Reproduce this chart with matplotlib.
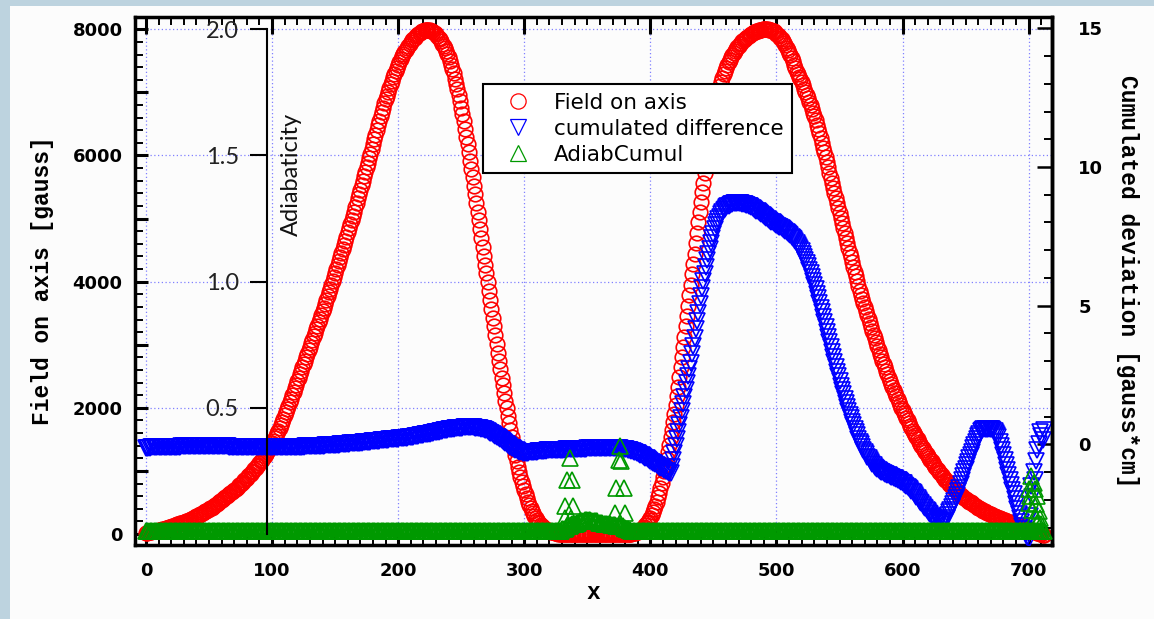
import numpy as np
import matplotlib
matplotlib.use("Agg")
import matplotlib.pyplot as plt
from matplotlib.ticker import MultipleLocator, FixedLocator, FuncFormatter
from matplotlib.patches import Rectangle
from matplotlib.lines import Line2D

# ---------------- data ----------------
x_start, x_step, x_stop = 0, 1, 712          # sample positions along x
x_vals = np.arange(x_start, x_stop + 1, x_step)

field_on_axis = [
    20, 22, 25, 30, 35, 40, 45, 48, 50, 55, 60, 65, 70, 75, 80, 85, 90, 98, 105, 110,
    115, 122, 130, 138, 145, 152, 160, 168, 175, 182, 190, 198, 205, 212, 220, 230, 240, 250, 260, 270,
    280, 290, 300, 310, 320, 332, 345, 358, 370, 382, 395, 408, 420, 432, 445, 460, 475, 490, 505, 520,
    535, 550, 565, 580, 595, 612, 630, 648, 665, 682, 700, 718, 735, 752, 770, 790, 810, 830, 850, 870,
    890, 912, 935, 958, 980, 1002, 1025, 1050, 1075, 1100, 1125, 1152, 1180, 1210, 1240, 1270, 1300, 1335, 1370, 1405,
    1440, 1478, 1515, 1555, 1595, 1638, 1680, 1725, 1770, 1825, 1880, 1930, 1980, 2035, 2090, 2145, 2200, 2255, 2310, 2365,
    2420, 2475, 2530, 2585, 2640, 2695, 2750, 2805, 2860, 2915, 2970, 3025, 3080, 3135, 3190, 3245, 3300, 3355, 3410, 3470,
    3530, 3590, 3650, 3710, 3770, 3830, 3890, 3950, 4010, 4070, 4130, 4195, 4260, 4325, 4390, 4455, 4520, 4585, 4650, 4715,
    4780, 4845, 4910, 4975, 5040, 5110, 5180, 5250, 5320, 5390, 5460, 5530, 5600, 5670, 5740, 5810, 5880, 5955, 6030, 6105,
    6180, 6255, 6330, 6405, 6480, 6550, 6620, 6690, 6760, 6825, 6890, 6950, 7010, 7070, 7130, 7185, 7240, 7290, 7340, 7390,
    7440, 7485, 7530, 7570, 7610, 7645, 7680, 7710, 7740, 7770, 7800, 7825, 7850, 7870, 7890, 7910, 7930, 7945, 7960, 7970,
    7980, 7985, 7990, 7990, 7990, 7985, 7980, 7970, 7960, 7940, 7920, 7895, 7870, 7840, 7810, 7775, 7740, 7700, 7660, 7610,
    7560, 7500, 7440, 7370, 7300, 7220, 7140, 7050, 6960, 6860, 6760, 6650, 6540, 6420, 6300, 6175, 6050, 5920, 5790, 5655,
    5520, 5385, 5250, 5110, 4970, 4830, 4690, 4550, 4410, 4270, 4130, 3990, 3850, 3710, 3570, 3430, 3290, 3150, 3010, 2875,
    2740, 2610, 2480, 2355, 2230, 2110, 1990, 1875, 1760, 1650, 1540, 1440, 1340, 1245, 1150, 1065, 980, 905, 830, 760,
    690, 630, 570, 515, 460, 415, 370, 330, 290, 258, 225, 198, 170, 148, 125, 108, 90, 78, 65, 55,
    45, 38, 30, 25, 20, 15, 10, 8, 5, 2, 0, 0, 0, 0, 0, 0, 0, 0, 0, 0,
    0, 0, 0, 0, 0, 0, 0, 0, 0, 0, 0, 0, 0, 0, 0, 0, 0, 0, 0, 0,
    0, 0, 0, 0, 0, 0, 0, 0, 0, 0, 0, 0, 0, 0, 0, 0, 0, 0, 0, 0,
    0, 0, 0, 2, 5, 8, 10, 15, 20, 28, 35, 48, 60, 78, 95, 118, 140, 168, 195, 228,
    260, 300, 345, 395, 450, 515, 580, 655, 730, 815, 900, 995, 1090, 1195, 1300, 1415, 1530, 1655, 1780, 1910,
    2040, 2185, 2330, 2485, 2640, 2800, 2960, 3125, 3290, 3455, 3620, 3785, 3950, 4115, 4280, 4445, 4610, 4775, 4940, 5100,
    5260, 5415, 5570, 5720, 5870, 6015, 6160, 6295, 6430, 6545, 6660, 6760, 6860, 6945, 7030, 7100, 7170, 7230, 7290, 7340,
    7390, 7435, 7480, 7520, 7560, 7595, 7630, 7660, 7690, 7715, 7740, 7765, 7790, 7810, 7830, 7850, 7870, 7885, 7900, 7915,
    7930, 7940, 7950, 7960, 7970, 7978, 7985, 7990, 7995, 7998, 8000, 8000, 8000, 7998, 7995, 7990, 7985, 7978, 7970, 7950,
    7930, 7910, 7890, 7865, 7840, 7810, 7780, 7745, 7710, 7670, 7630, 7585, 7540, 7490, 7440, 7385, 7330, 7290, 7250, 7205,
    7160, 7110, 7060, 7010, 6960, 6905, 6850, 6795, 6740, 6680, 6620, 6555, 6490, 6420, 6350, 6275, 6200, 6125, 6050, 5970,
    5890, 5810, 5730, 5650, 5570, 5490, 5410, 5330, 5250, 5170, 5090, 5010, 4930, 4850, 4770, 4690, 4610, 4535, 4460, 4385,
    4310, 4235, 4160, 4085, 4010, 3935, 3860, 3795, 3730, 3665, 3600, 3535, 3470, 3405, 3340, 3280, 3220, 3160, 3100, 3040,
    2980, 2920, 2860, 2805, 2750, 2695, 2640, 2585, 2530, 2480, 2430, 2380, 2330, 2280, 2230, 2185, 2140, 2095, 2050, 2005,
    1960, 1920, 1880, 1840, 1800, 1760, 1720, 1680, 1640, 1605, 1570, 1535, 1500, 1465, 1430, 1395, 1360, 1330, 1300, 1270,
    1240, 1210, 1180, 1150, 1120, 1090, 1060, 1035, 1010, 985, 960, 935, 910, 885, 860, 840, 820, 800, 780, 760,
    740, 720, 700, 680, 660, 642, 625, 608, 590, 575, 560, 545, 530, 515, 500, 485, 470, 458, 445, 432,
    420, 408, 395, 382, 370, 360, 350, 340, 330, 320, 310, 300, 290, 280, 270, 262, 255, 248, 240, 232,
    225, 218, 210, 202, 195, 188, 180, 172, 165, 158, 150, 142, 135, 128, 120, 112, 105, 98, 90, 82,
    75, 68, 60, 52, 45, 38, 30, 22, 15, 8, 0, -8, -15,
]

cumulated_difference = [
    -0.12, -0.12, -0.12, -0.12, -0.11, -0.11, -0.11, -0.11, -0.10, -0.10, -0.10, -0.10, -0.10, -0.10, -0.09, -0.09, -0.09, -0.09, -0.09, -0.09,
    -0.09, -0.09, -0.08, -0.08, -0.08, -0.08, -0.08, -0.08, -0.07, -0.07, -0.07, -0.07, -0.07, -0.07, -0.06, -0.06, -0.06, -0.06, -0.06, -0.06,
    -0.06, -0.06, -0.06, -0.06, -0.06, -0.06, -0.06, -0.06, -0.06, -0.06, -0.06, -0.06, -0.06, -0.06, -0.06, -0.06, -0.07, -0.07, -0.07, -0.07,
    -0.07, -0.07, -0.07, -0.07, -0.07, -0.07, -0.08, -0.08, -0.08, -0.08, -0.08, -0.08, -0.08, -0.08, -0.08, -0.08, -0.09, -0.09, -0.09, -0.09,
    -0.09, -0.09, -0.09, -0.09, -0.09, -0.09, -0.09, -0.09, -0.09, -0.09, -0.09, -0.09, -0.09, -0.09, -0.09, -0.09, -0.09, -0.09, -0.09, -0.09,
    -0.09, -0.09, -0.09, -0.09, -0.09, -0.09, -0.09, -0.09, -0.09, -0.09, -0.09, -0.09, -0.09, -0.09, -0.08, -0.08, -0.08, -0.08, -0.08, -0.08,
    -0.08, -0.08, -0.08, -0.08, -0.08, -0.08, -0.07, -0.07, -0.07, -0.07, -0.07, -0.07, -0.07, -0.07, -0.06, -0.06, -0.06, -0.06, -0.05, -0.05,
    -0.05, -0.05, -0.04, -0.04, -0.04, -0.04, -0.03, -0.03, -0.03, -0.03, -0.02, -0.02, -0.01, -0.01, 0.00, 0.00, 0.01, 0.01, 0.01, 0.01,
    0.02, 0.025, 0.03, 0.035, 0.04, 0.045, 0.05, 0.05, 0.05, 0.055, 0.06, 0.065, 0.07, 0.075, 0.08, 0.085, 0.09, 0.095, 0.10, 0.105,
    0.11, 0.115, 0.12, 0.125, 0.13, 0.135, 0.14, 0.145, 0.15, 0.155, 0.16, 0.165, 0.17, 0.175, 0.18, 0.185, 0.19, 0.195, 0.20, 0.205,
    0.21, 0.215, 0.22, 0.225, 0.23, 0.235, 0.24, 0.245, 0.25, 0.26, 0.27, 0.275, 0.28, 0.29, 0.30, 0.305, 0.31, 0.32, 0.33, 0.34,
    0.35, 0.36, 0.37, 0.375, 0.38, 0.39, 0.40, 0.41, 0.42, 0.43, 0.44, 0.45, 0.46, 0.47, 0.48, 0.49, 0.50, 0.51, 0.52, 0.53,
    0.54, 0.545, 0.55, 0.56, 0.57, 0.575, 0.58, 0.585, 0.59, 0.595, 0.60, 0.605, 0.61, 0.61, 0.61, 0.615, 0.62, 0.62, 0.62, 0.615,
    0.61, 0.605, 0.60, 0.595, 0.59, 0.58, 0.57, 0.555, 0.54, 0.52, 0.50, 0.475, 0.45, 0.425, 0.40, 0.37, 0.34, 0.31, 0.28, 0.25,
    0.22, 0.185, 0.15, 0.115, 0.08, 0.045, 0.01, -0.025, -0.06, -0.09, -0.12, -0.145, -0.17, -0.195, -0.22, -0.24, -0.26, -0.275, -0.29, -0.295,
    -0.30, -0.30, -0.30, -0.295, -0.29, -0.285, -0.28, -0.275, -0.27, -0.265, -0.26, -0.255, -0.25, -0.245, -0.24, -0.235, -0.23, -0.225, -0.22, -0.22,
    -0.22, -0.215, -0.21, -0.21, -0.21, -0.205, -0.20, -0.20, -0.20, -0.195, -0.19, -0.19, -0.19, -0.185, -0.18, -0.18, -0.18, -0.18, -0.18, -0.175,
    -0.17, -0.17, -0.17, -0.165, -0.16, -0.16, -0.16, -0.16, -0.16, -0.155, -0.15, -0.15, -0.15, -0.15, -0.15, -0.145, -0.14, -0.14, -0.14, -0.14,
    -0.14, -0.14, -0.14, -0.14, -0.14, -0.14, -0.14, -0.14, -0.14, -0.14, -0.14, -0.14, -0.14, -0.145, -0.15, -0.15, -0.15, -0.155, -0.16, -0.165,
    -0.17, -0.18, -0.19, -0.20, -0.21, -0.225, -0.24, -0.26, -0.28, -0.30, -0.32, -0.345, -0.37, -0.395, -0.42, -0.45, -0.48, -0.51, -0.54, -0.57,
    -0.60, -0.63, -0.66, -0.69, -0.72, -0.75, -0.78, -0.81, -0.84, -0.87, -0.90, -0.925, -0.95, -0.975, -1.00, -1.02, -1.03, -0.80, -0.55, -0.30,
    -0.05, 0.20, 0.45, 0.70, 0.95, 1.20, 1.45, 1.70, 1.95, 2.20, 2.45, 2.70, 2.95, 3.25, 3.55, 3.85, 4.15, 4.45, 4.75, 5.05,
    5.35, 5.63, 5.90, 6.15, 6.40, 6.63, 6.85, 7.05, 7.25, 7.43, 7.60, 7.75, 7.90, 8.01, 8.12, 8.21, 8.30, 8.37, 8.44, 8.49,
    8.54, 8.58, 8.61, 8.64, 8.66, 8.68, 8.69, 8.70, 8.70, 8.70, 8.70, 8.70, 8.69, 8.68, 8.67, 8.66, 8.64, 8.62, 8.60, 8.58,
    8.55, 8.52, 8.49, 8.46, 8.43, 8.40, 8.36, 8.33, 8.29, 8.26, 8.22, 8.19, 8.15, 8.12, 8.09, 8.06, 8.03, 8.00, 7.97, 7.94,
    7.91, 7.88, 7.85, 7.82, 7.79, 7.76, 7.73, 7.70, 7.66, 7.62, 7.58, 7.54, 7.49, 7.44, 7.39, 7.33, 7.27, 7.20, 7.13, 7.05,
    6.96, 6.87, 6.77, 6.66, 6.55, 6.43, 6.30, 6.17, 6.03, 5.89, 5.74, 5.59, 5.43, 5.27, 5.10, 4.93, 4.76, 4.59, 4.41, 4.23,
    4.05, 3.87, 3.69, 3.51, 3.33, 3.15, 2.97, 2.80, 2.62, 2.45, 2.28, 2.12, 1.95, 1.80, 1.64, 1.50, 1.35, 1.21, 1.07, 0.94,
    0.80, 0.68, 0.55, 0.44, 0.32, 0.21, 0.10, 0.00, -0.10, -0.19, -0.28, -0.36, -0.44, -0.51, -0.58, -0.64, -0.70, -0.75, -0.80, -0.84,
    -0.88, -0.92, -0.95, -0.98, -1.01, -1.04, -1.06, -1.08, -1.10, -1.12, -1.14, -1.16, -1.18, -1.20, -1.22, -1.25, -1.27, -1.30, -1.32, -1.35,
    -1.38, -1.41, -1.45, -1.49, -1.53, -1.57, -1.62, -1.67, -1.72, -1.77, -1.83, -1.89, -1.95, -2.01, -2.07, -2.13, -2.19, -2.25, -2.31, -2.37,
    -2.42, -2.47, -2.52, -2.57, -2.61, -2.65, -2.68, -2.71, -2.74, -2.76, -2.78, -2.79, -2.80, -2.77, -2.72, -2.64, -2.55, -2.45, -2.35, -2.25,
    -2.15, -2.05, -1.95, -1.83, -1.70, -1.56, -1.42, -1.28, -1.14, -1.01, -0.88, -0.75, -0.62, -0.50, -0.38, -0.27, -0.15, -0.04, 0.08, 0.19,
    0.30, 0.39, 0.48, 0.52, 0.55, 0.56, 0.57, 0.57, 0.57, 0.57, 0.56, 0.54, 0.52, 0.47, 0.42, 0.34, 0.25, 0.10, -0.05, -0.22,
    -0.40, -0.58, -0.75, -0.93, -1.10, -1.28, -1.45, -1.63, -1.80, -1.98, -2.15, -2.33, -2.50, -2.65, -2.80, -2.93, -3.05, -3.15, -3.25, -3.33,
    -3.40, -2.60, -1.50, -1.90, -1.00, -1.30, -0.60, -0.20, 0.00, 0.45, 0.30, 0.15, 0.50,
]

adiab_cumul = [
    0.01, 0.01, 0.01, 0.01, 0.01, 0.01, 0.01, 0.01, 0.01, 0.01, 0.01, 0.01, 0.01, 0.01, 0.01, 0.01, 0.01, 0.01, 0.01, 0.01,
    0.01, 0.01, 0.01, 0.01, 0.01, 0.01, 0.01, 0.01, 0.01, 0.01, 0.01, 0.01, 0.01, 0.01, 0.01, 0.01, 0.01, 0.01, 0.01, 0.01,
    0.01, 0.01, 0.01, 0.01, 0.01, 0.01, 0.01, 0.01, 0.01, 0.01, 0.01, 0.01, 0.01, 0.01, 0.01, 0.01, 0.01, 0.01, 0.01, 0.01,
    0.01, 0.01, 0.01, 0.01, 0.01, 0.01, 0.01, 0.01, 0.01, 0.01, 0.01, 0.01, 0.01, 0.01, 0.01, 0.01, 0.01, 0.01, 0.01, 0.01,
    0.01, 0.01, 0.01, 0.01, 0.01, 0.01, 0.01, 0.01, 0.01, 0.01, 0.01, 0.01, 0.01, 0.01, 0.01, 0.01, 0.01, 0.01, 0.01, 0.01,
    0.01, 0.01, 0.01, 0.01, 0.01, 0.01, 0.01, 0.01, 0.01, 0.01, 0.01, 0.01, 0.01, 0.01, 0.01, 0.01, 0.01, 0.01, 0.01, 0.01,
    0.01, 0.01, 0.01, 0.01, 0.01, 0.01, 0.01, 0.01, 0.01, 0.01, 0.01, 0.01, 0.01, 0.01, 0.01, 0.01, 0.01, 0.01, 0.01, 0.01,
    0.01, 0.01, 0.01, 0.01, 0.01, 0.01, 0.01, 0.01, 0.01, 0.01, 0.01, 0.01, 0.01, 0.01, 0.01, 0.01, 0.01, 0.01, 0.01, 0.01,
    0.01, 0.01, 0.01, 0.01, 0.01, 0.01, 0.01, 0.01, 0.01, 0.01, 0.01, 0.01, 0.01, 0.01, 0.01, 0.01, 0.01, 0.01, 0.01, 0.01,
    0.01, 0.01, 0.01, 0.01, 0.01, 0.01, 0.01, 0.01, 0.01, 0.01, 0.01, 0.01, 0.01, 0.01, 0.01, 0.01, 0.01, 0.01, 0.01, 0.01,
    0.01, 0.01, 0.01, 0.01, 0.01, 0.01, 0.01, 0.01, 0.01, 0.01, 0.01, 0.01, 0.01, 0.01, 0.01, 0.01, 0.01, 0.01, 0.01, 0.01,
    0.01, 0.01, 0.01, 0.01, 0.01, 0.01, 0.01, 0.01, 0.01, 0.01, 0.01, 0.01, 0.01, 0.01, 0.01, 0.01, 0.01, 0.01, 0.01, 0.01,
    0.01, 0.01, 0.01, 0.01, 0.01, 0.01, 0.01, 0.01, 0.01, 0.01, 0.01, 0.01, 0.01, 0.01, 0.01, 0.01, 0.01, 0.01, 0.01, 0.01,
    0.01, 0.01, 0.01, 0.01, 0.01, 0.01, 0.01, 0.01, 0.01, 0.01, 0.01, 0.01, 0.01, 0.01, 0.01, 0.01, 0.01, 0.01, 0.01, 0.01,
    0.01, 0.01, 0.01, 0.01, 0.01, 0.01, 0.01, 0.01, 0.01, 0.01, 0.01, 0.01, 0.01, 0.01, 0.01, 0.01, 0.01, 0.01, 0.01, 0.01,
    0.01, 0.01, 0.01, 0.01, 0.01, 0.01, 0.01, 0.01, 0.01, 0.01, 0.01, 0.01, 0.01, 0.01, 0.01, 0.01, 0.01, 0.01, 0.01, 0.01,
    0.01, 0.01, 0.01, 0.01, 0.01, 0.01, 0.01, 0.01, 0.01, 0.01, 0.02, 0.02, 0.02, 0.025, 0.03, 0.03, 0.03, 0.035, 0.04, 0.04,
    0.04, 0.04, 0.045, 0.045, 0.05, 0.05, 0.05, 0.05, 0.055, 0.055, 0.055, 0.055, 0.055, 0.05, 0.05, 0.05, 0.05, 0.05, 0.05, 0.045,
    0.045, 0.045, 0.045, 0.04, 0.04, 0.04, 0.04, 0.04, 0.04, 0.035, 0.035, 0.035, 0.035, 0.03, 0.03, 0.03, 0.03, 0.03, 0.03, 0.025,
    0.025, 0.02, 0.02, 0.015, 0.015, 0.01, 0.01, 0.01, 0.01, 0.01, 0.01, 0.01, 0.01, 0.01, 0.01, 0.01, 0.01, 0.01, 0.01, 0.01,
    0.01, 0.01, 0.01, 0.01, 0.01, 0.01, 0.01, 0.01, 0.01, 0.01, 0.01, 0.01, 0.01, 0.01, 0.01, 0.01, 0.01, 0.01, 0.01, 0.01,
    0.01, 0.01, 0.01, 0.01, 0.01, 0.01, 0.01, 0.01, 0.01, 0.01, 0.01, 0.01, 0.01, 0.01, 0.01, 0.01, 0.01, 0.01, 0.01, 0.01,
    0.01, 0.01, 0.01, 0.01, 0.01, 0.01, 0.01, 0.01, 0.01, 0.01, 0.01, 0.01, 0.01, 0.01, 0.01, 0.01, 0.01, 0.01, 0.01, 0.01,
    0.01, 0.01, 0.01, 0.01, 0.01, 0.01, 0.01, 0.01, 0.01, 0.01, 0.01, 0.01, 0.01, 0.01, 0.01, 0.01, 0.01, 0.01, 0.01, 0.01,
    0.01, 0.01, 0.01, 0.01, 0.01, 0.01, 0.01, 0.01, 0.01, 0.01, 0.01, 0.01, 0.01, 0.01, 0.01, 0.01, 0.01, 0.01, 0.01, 0.01,
    0.01, 0.01, 0.01, 0.01, 0.01, 0.01, 0.01, 0.01, 0.01, 0.01, 0.01, 0.01, 0.01, 0.01, 0.01, 0.01, 0.01, 0.01, 0.01, 0.01,
    0.01, 0.01, 0.01, 0.01, 0.01, 0.01, 0.01, 0.01, 0.01, 0.01, 0.01, 0.01, 0.01, 0.01, 0.01, 0.01, 0.01, 0.01, 0.01, 0.01,
    0.01, 0.01, 0.01, 0.01, 0.01, 0.01, 0.01, 0.01, 0.01, 0.01, 0.01, 0.01, 0.01, 0.01, 0.01, 0.01, 0.01, 0.01, 0.01, 0.01,
    0.01, 0.01, 0.01, 0.01, 0.01, 0.01, 0.01, 0.01, 0.01, 0.01, 0.01, 0.01, 0.01, 0.01, 0.01, 0.01, 0.01, 0.01, 0.01, 0.01,
    0.01, 0.01, 0.01, 0.01, 0.01, 0.01, 0.01, 0.01, 0.01, 0.01, 0.01, 0.01, 0.01, 0.01, 0.01, 0.01, 0.01, 0.01, 0.01, 0.01,
    0.01, 0.01, 0.01, 0.01, 0.01, 0.01, 0.01, 0.01, 0.01, 0.01, 0.01, 0.01, 0.01, 0.01, 0.01, 0.01, 0.01, 0.01, 0.01, 0.01,
    0.01, 0.01, 0.01, 0.01, 0.01, 0.01, 0.01, 0.01, 0.01, 0.01, 0.01, 0.01, 0.01, 0.01, 0.01, 0.01, 0.01, 0.01, 0.01, 0.01,
    0.01, 0.01, 0.01, 0.01, 0.01, 0.01, 0.01, 0.01, 0.01, 0.01, 0.01, 0.01, 0.01, 0.01, 0.01, 0.01, 0.01, 0.01, 0.01, 0.01,
    0.01, 0.01, 0.01, 0.01, 0.01, 0.01, 0.01, 0.01, 0.01, 0.01, 0.01, 0.01, 0.01, 0.01, 0.01, 0.01, 0.01, 0.01, 0.01, 0.01,
    0.01, 0.01, 0.01, 0.01, 0.01, 0.01, 0.01, 0.01, 0.01, 0.01, 0.01, 0.01, 0.01, 0.01, 0.01, 0.01, 0.01, 0.01, 0.01, 0.01,
    0.01, 0.01, 0.01, 0.01, 0.01, 0.01, 0.01, 0.01, 0.01, 0.01, 0.01, 0.01, 0.01,
]

# scattered AdiabCumul points where the field is close to zero
adiab_spike_x = [336, 334, 338, 332, 339, 332, 337, 335,
                 376, 375, 377, 373, 379, 372, 380, 376,
                 702, 704, 700, 705, 701, 707, 700, 706, 703, 708, 705, 709, 707, 710]
adiab_spike_y = [0.300, 0.216, 0.216, 0.111, 0.111, 0.065, 0.065, 0.030,
                 0.348, 0.295, 0.289, 0.183, 0.183, 0.084, 0.084, 0.045,
                 0.229, 0.203, 0.177, 0.177, 0.150, 0.150, 0.124, 0.117,
                 0.097, 0.090, 0.071, 0.064, 0.045, 0.040]

legend_labels = ["Field on axis", "cumulated difference", "AdiabCumul"]
adiab_tick_values = [0.5, 1.0, 1.5, 2.0]

assert len(field_on_axis) == len(x_vals), len(field_on_axis)
assert len(cumulated_difference) == len(x_vals), len(cumulated_difference)
assert len(adiab_cumul) == len(x_vals), len(adiab_cumul)

# ---------------- styling ----------------
W, H = 1154, 619
RED, BLUE, GREEN = "#ff0000", "#0000ff", "#009900"
GRID = "#8080ff"
TICKFONT = dict(family="DejaVu Sans", weight="bold", size=13)
MONO = dict(family="Liberation Mono", weight="bold", size=16.5)

fig = plt.figure(figsize=(W / 100, H / 100), dpi=100, facecolor="#bdd3df")
fig.add_artist(Rectangle((10 / W, 0), 1 - 10 / W, 1 - 6 / H, transform=fig.transFigure,
                         facecolor="#fcfcfc", edgecolor="none", zorder=0))

L, R, T, B = 135, 1052, 16.7, 545
ax = fig.add_axes([L / W, 1 - B / H, (R - L) / W, (B - T) / H])
ax.set_facecolor("#fcfcfc")
ax2 = ax.twinx()
ax3 = ax.twinx()

ax.set_xlim(-8.7, 718.5)
ax.set_ylim(-174, 8200)
ax2.set_ylim(-3.63, 15.42)
ax3.set_ylim(-174 / 4000, 8200 / 4000)

# main (left / bottom / top) axis ticks
ax.xaxis.set_major_locator(MultipleLocator(100))
ax.xaxis.set_minor_locator(MultipleLocator(10))
ax.yaxis.set_major_locator(MultipleLocator(1000))
ax.yaxis.set_minor_locator(MultipleLocator(200))
ax.yaxis.set_major_formatter(FuncFormatter(lambda v, p: f"{v:.0f}" if v % 2000 == 0 else ""))
ax.tick_params(axis="x", which="both", direction="in", top=True, bottom=True)
ax.tick_params(axis="y", which="both", direction="in", left=True, right=False)
ax.tick_params(axis="x", which="major", length=12, width=2.2, pad=12)
ax.tick_params(axis="x", which="minor", length=6, width=1.4)
ax.tick_params(axis="y", which="major", length=9, width=2.2, pad=9)
ax.tick_params(axis="y", which="minor", length=6, width=1.4)
for lab in ax.get_xticklabels() + ax.get_yticklabels():
    lab.set_fontproperties(TICKFONT)
for sp in ax.spines.values():
    sp.set_linewidth(2.5)

# dotted grid derived from the major ticks
for v in ax.get_xticks():
    if ax.get_xlim()[0] <= v <= ax.get_xlim()[1]:
        ax.axvline(v, color=GRID, lw=0.9, ls=(0, (1, 2)), zorder=0.5)
for v in ax.get_yticks():
    if v % 2000 == 0 and ax.get_ylim()[0] <= v <= ax.get_ylim()[1]:
        ax.axhline(v, color=GRID, lw=0.9, ls=(0, (1, 2)), zorder=0.5)

# right axis
for s in ["left", "top", "bottom"]:
    ax2.spines[s].set_visible(False)
ax2.spines["right"].set_linewidth(2.5)
ax2.yaxis.set_major_locator(MultipleLocator(5))
ax2.yaxis.set_minor_locator(MultipleLocator(1))
ax2.tick_params(axis="y", which="both", direction="in")
ax2.tick_params(axis="y", which="major", length=11, width=1.8, pad=19)
ax2.tick_params(axis="y", which="minor", length=5.5, width=1.4)
for lab in ax2.get_yticklabels():
    lab.set_fontproperties(TICKFONT)

# free "Adiabaticity" axis inside the plot
for s in ["right", "top", "bottom"]:
    ax3.spines[s].set_visible(False)
ax3.spines["left"].set_visible(True)
ax3.spines["left"].set_position(("data", 95.7))
ax3.spines["left"].set_bounds(0, 2.0)
ax3.spines["left"].set_linewidth(1.5)
ax3.yaxis.tick_left()
ax3.yaxis.set_major_locator(FixedLocator(adiab_tick_values))
ax3.yaxis.set_major_formatter(FuncFormatter(lambda v, p: f"{v:.1f}"))
ax3.yaxis.set_minor_locator(FixedLocator([]))
ax3.tick_params(axis="y", which="major", direction="out", length=12, width=1.5, pad=8,
                labelsize=17, labelcolor="#222222")
for lab in ax3.get_yticklabels():
    lab.set_family("Lato")
fig.text(291 / W, 1 - 174 / H, "Adiabaticity", rotation=90, ha="center", va="center",
         family="Lato", fontsize=17, color="#111111")

# labels
ax.set_ylabel("Field on axis [gauss]", fontdict=MONO, va="center")
ax.yaxis.set_label_coords(-0.1014, 0.5)
ax2.set_ylabel("Cumulated deviation [gauss*cm]", fontdict=MONO, rotation=-90, va="center")
ax2.yaxis.set_label_coords(1.0818, 0.5)
ax.set_xlabel("x", fontdict=MONO, va="center")
ax.xaxis.set_label_coords(0.5, -0.089)

# data
mk = dict(linestyle="none", markerfacecolor="none", markeredgewidth=1.2)
ax.plot(x_vals, field_on_axis, marker="o", markersize=10.5, markeredgecolor=RED, **mk)
ax2.plot(x_vals, cumulated_difference, marker="v", markersize=11.5, markeredgecolor=BLUE, **mk)
ax3.plot(x_vals, adiab_cumul, marker="^", markersize=11.5, markeredgecolor=GREEN, **mk)
ax3.plot(adiab_spike_x, adiab_spike_y, marker="^", markersize=11.5, markeredgecolor=GREEN, **mk)

# legend handles (thin outlines like the reference legend)
hk = dict(linestyle="none", markerfacecolor="none", markeredgewidth=0.9)
h1 = Line2D([], [], marker="o", markersize=11, markeredgecolor=RED, **hk)
h2 = Line2D([], [], marker="v", markersize=11.5, markeredgecolor=BLUE, **hk)
h3 = Line2D([], [], marker="^", markersize=11.5, markeredgecolor=GREEN, **hk)
leg = ax3.legend([h1, h2, h3], legend_labels, loc="upper left",
                 bbox_to_anchor=(0.3795, 0.8726), borderaxespad=0, frameon=True,
                 fancybox=False, edgecolor="black", framealpha=1, facecolor="white",
                 prop=dict(family="DejaVu Sans", size=15.5), handlelength=2.45,
                 handletextpad=0.45, labelspacing=0.28, borderpad=0.4, numpoints=1)
leg.get_frame().set_linewidth(1.5)
leg.set_zorder(10)

fig.savefig("out.png", dpi=100, facecolor=fig.get_facecolor())
